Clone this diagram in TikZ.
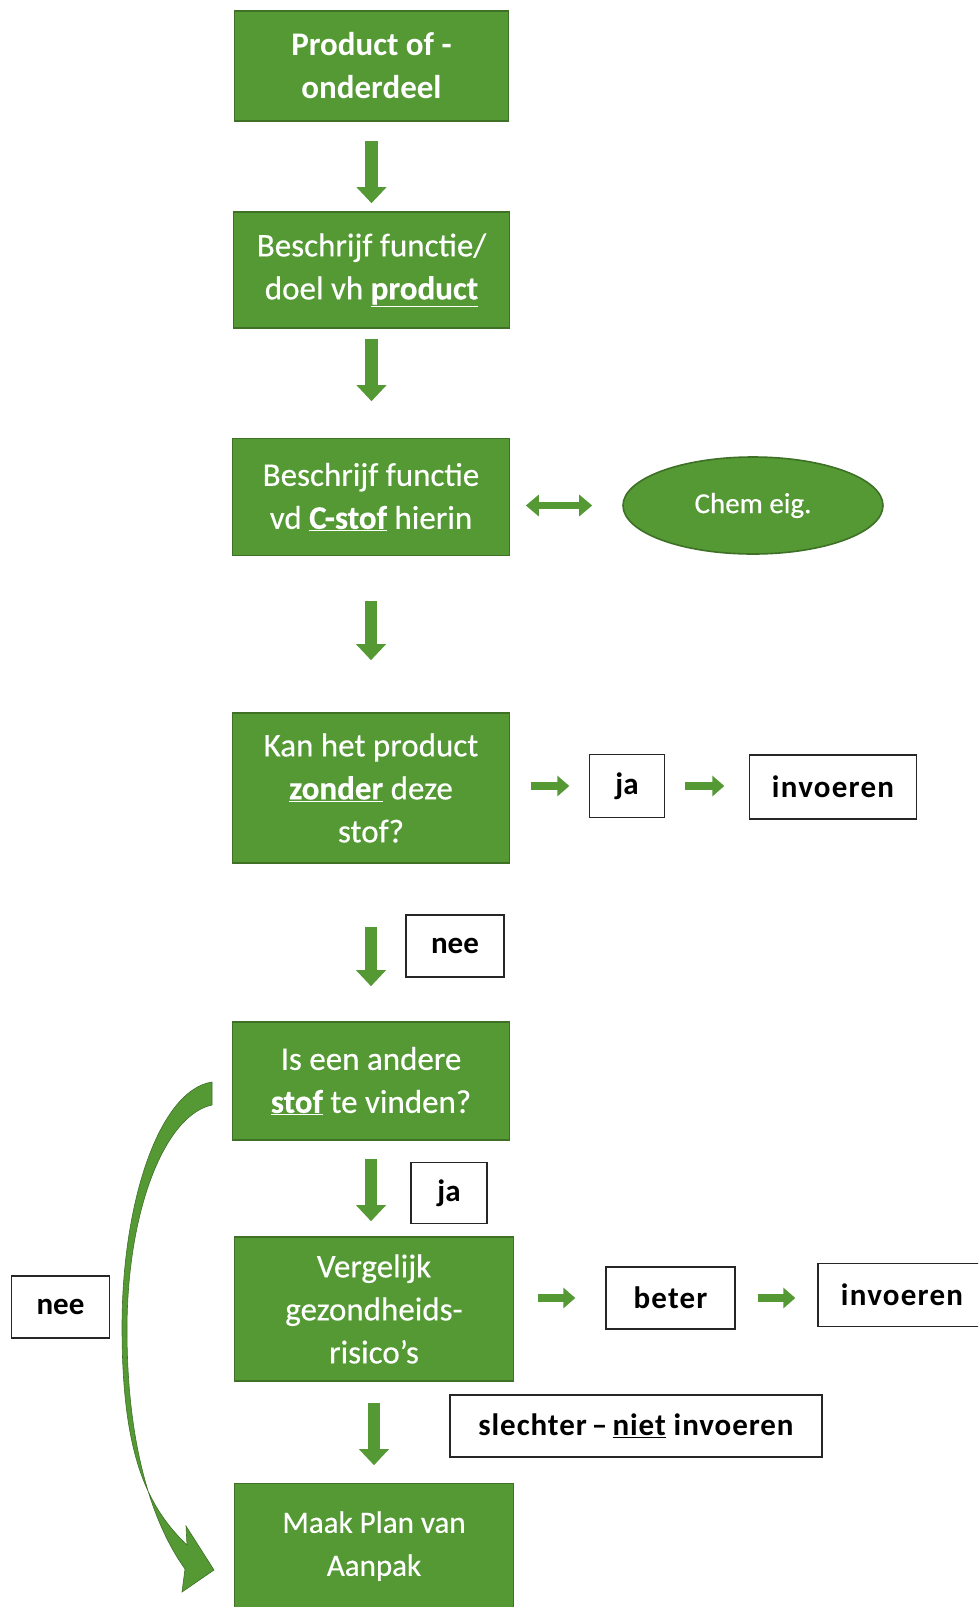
\documentclass[tikz,border=0pt]{standalone}
\usepackage{fontspec}
\setmainfont{Carlito}
\usetikzlibrary{arrows.meta,shapes.geometric}
\definecolor{gfill}{RGB}{84,153,52}
\definecolor{gline}{RGB}{62,112,38}
\begin{document}
\begin{tikzpicture}[x=1pt,y=-1pt,
  gbox/.style={draw=gline, line width=1.6pt, fill=gfill, text=white, align=center,
    inner sep=0pt, font=\fontsize{33}{43}\selectfont\addfontfeature{FakeBold=0.4}},
  lbox/.style={draw=black!85, line width=1.3pt, fill=white, inner sep=0pt, align=center,
    font=\bfseries\fontsize{31}{37}\selectfont},
  varrow/.style={draw=gfill, line width=12.5pt, -{Triangle[length=16pt,width=29pt]}},
  harrow/.style={draw=gfill, line width=8pt, -{Triangle[length=12pt,width=20pt]}},
  darrow/.style={draw=gfill, line width=7.5pt, {Triangle[length=13pt,width=21pt]}-{Triangle[length=13pt,width=21pt]}}
]
\useasboundingbox (0,0) rectangle (978,1607);
\clip (0,0) rectangle (978,1607);

% green boxes
\node[gbox, minimum width=274pt, minimum height=110pt, font=\bfseries\fontsize{33}{43}\selectfont] (b1) at (371.5,66) {Product of -\\onderdeel};
\node[gbox, minimum width=276pt, minimum height=116pt] (b2) at (371.5,270) {Beschrijf functie/\\doel vh \underline{\textbf{product}}};
\node[gbox, minimum width=277pt, minimum height=117pt] (b3) at (371,497) {Beschrijf functie\\vd \underline{\textbf{C-stof}} hierin};
\node[ellipse, draw=gline, line width=1.6pt, fill=gfill, text=white, inner sep=0pt,
  minimum width=260pt, minimum height=97pt, font=\fontsize{29}{35}\selectfont\addfontfeature{FakeBold=0.3}] (ell) at (753,505.5) {Chem eig.};
\node[gbox, minimum width=277pt, minimum height=150pt] (b4) at (371,788) {Kan het product\\\underline{\textbf{zonder}} deze\\stof?};
\node[gbox, minimum width=277pt, minimum height=118pt] (b5) at (371,1081) {Is een andere\\\underline{\textbf{stof}} te vinden?};
\node[gbox, minimum width=279pt, minimum height=144pt] (b6) at (374,1309) {Vergelijk\\gezondheids-\\risico’s};
\node[gbox, minimum width=279pt, minimum height=125pt, font=\fontsize{31}{43}\selectfont\addfontfeature{FakeBold=0.4}] (b7) at (374,1546) {Maak Plan van\\Aanpak};

% label boxes
\node[lbox, minimum width=75pt, minimum height=63pt] (ja1) at (627,786) {ja};
\node[lbox, minimum width=167pt, minimum height=64pt] (inv1) at (833,787) {\addfontfeature{LetterSpace=4}invoeren};
\node[lbox, minimum width=98pt, minimum height=62pt] (nee1) at (455,946) {nee};
\node[lbox, minimum width=76pt, minimum height=61pt] (ja2) at (449,1193) {ja};
\node[lbox, minimum width=129pt, minimum height=62pt] (beter) at (670.5,1298) {\addfontfeature{LetterSpace=4}beter};
\node[lbox, minimum width=168pt, minimum height=63pt] (inv2) at (902,1295) {\addfontfeature{LetterSpace=4}invoeren};
\node[lbox, minimum width=372pt, minimum height=62pt] (slech) at (636,1426) {\addfontfeature{LetterSpace=3}slechter\thinspace–\thinspace\underline{niet} invoeren};
\node[lbox, minimum width=98pt, minimum height=62pt] (neeL) at (60.5,1307) {nee};

% vertical block arrows
\draw[varrow, shorten <=19pt, shorten >=8pt] (b1.south) -- (b1.south |- b2.north);
\draw[varrow, shorten <=10pt, shorten >=36.5pt] (b2.south) -- (b2.south |- b3.north);
\draw[varrow, shorten <=44.5pt, shorten >=52pt] (b3.south) -- (b3.south |- b4.north);
\draw[varrow, shorten <=63pt, shorten >=35pt] (b4.south) -- (b4.south |- b5.north);
\draw[varrow, shorten <=18.5pt, shorten >=15pt] (b5.south) -- (b5.south |- b6.north);
\draw[varrow, shorten <=21.5pt, shorten >=17.5pt] (b6.south) -- (b6.south |- b7.north);

% horizontal arrows
\draw[darrow, shorten <=15.5pt, shorten >=30pt] (b3.east |- ell.west) -- (ell.west);
\draw[harrow, shorten <=20.5pt, shorten >=19.5pt] (b4.east |- ja1.west) -- (ja1.west);
\draw[harrow, shorten <=19.5pt, shorten >=24.5pt] (ja1.east) -- (inv1.west |- ja1.east);
\draw[harrow, shorten <=23.5pt, shorten >=30pt] (b6.east |- beter.west) -- (beter.west);
\draw[harrow, shorten <=22pt, shorten >=22pt] (beter.east) -- (inv2.west |- beter.east);

% curved "nee" arrow from b5 to b7
\fill[gfill, draw=gline, line width=0.6pt]
  (212,1082) .. controls (160,1090) and (122,1200) .. (122,1327)
  .. controls (122,1450) and (145,1505) .. (187,1545)
  -- (186,1526) -- (214,1570) -- (182,1592) -- (185,1569)
  .. controls (150,1520) and (127,1440) .. (127,1330)
  .. controls (127,1210) and (165,1115) .. (212,1105) -- cycle;
\end{tikzpicture}
\end{document}
